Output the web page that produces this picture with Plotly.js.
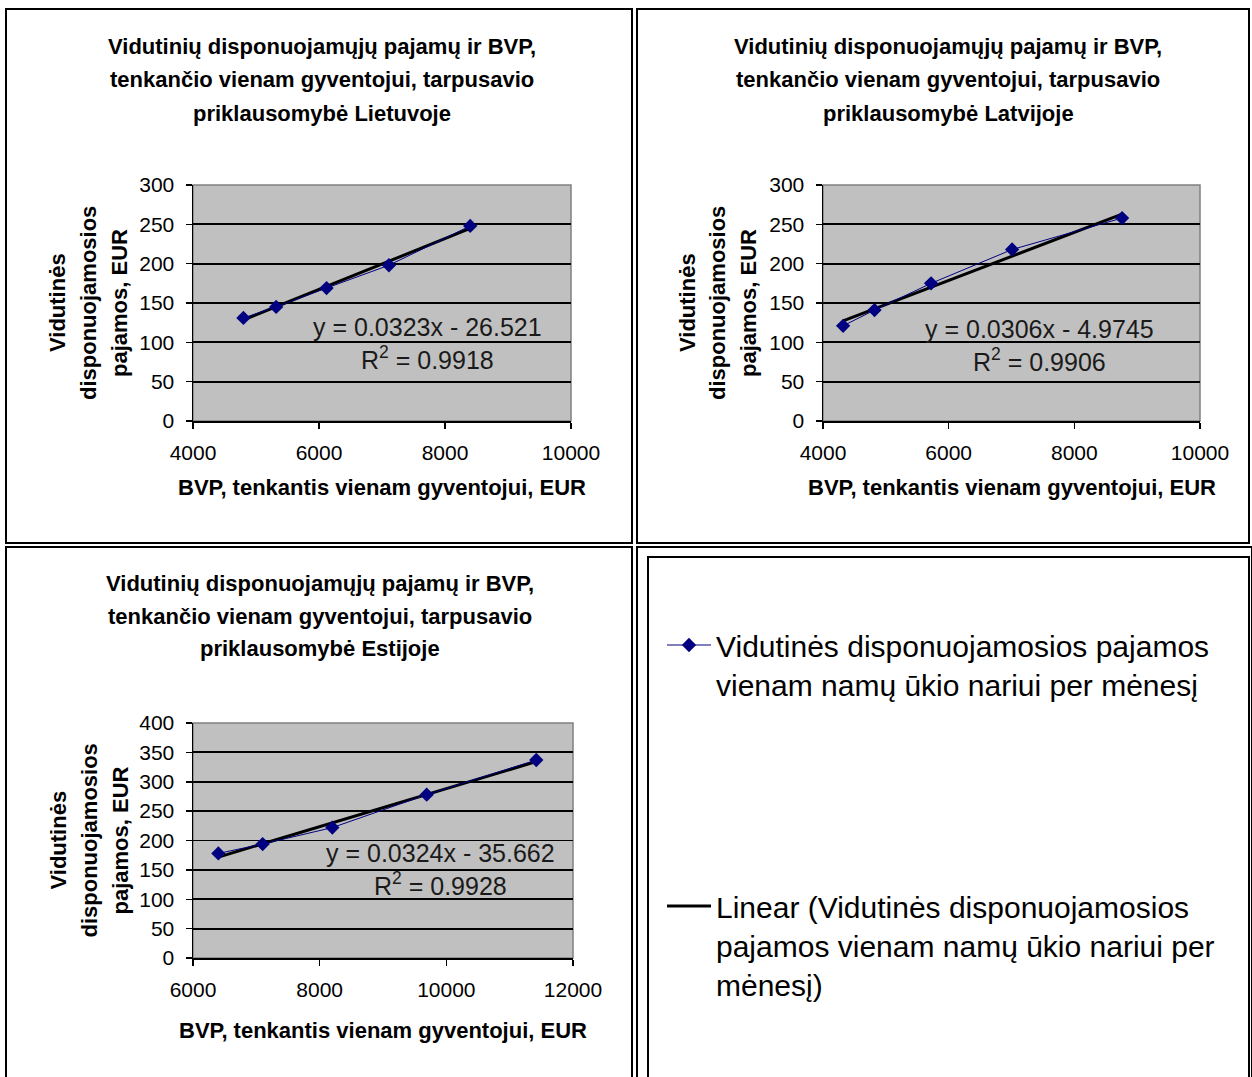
<!DOCTYPE html>
<html><head><meta charset="utf-8">
<script src="https://cdn.plot.ly/plotly-3.0.1.min.js"></script>
<style>html,body{margin:0;padding:0;background:#fff}</style>
</head><body><div id="chart" style="width:1252px;height:1077px"></div>
<script>
// ---- data ----
const countries = ["Lietuvoje", "Latvijoje", "Estijoje"];
const gdpLT = [4800, 5320, 6120, 7110, 8400];
const incLT = [131, 145, 169, 198, 248];
const gdpLV = [4320, 4820, 5720, 7010, 8760];
const incLV = [121, 141, 175, 218, 258];
const gdpEE = [6400, 7100, 8200, 9690, 11420];
const incEE = [178, 194, 222, 278, 337];
const slopes = [0.0323, 0.0306, 0.0324];
const intercepts = [-26.521, -4.9745, -35.662];
const eqTexts = ["y = 0.0323x - 26.521", "y = 0.0306x - 4.9745", "y = 0.0324x - 35.662"];
const r2Texts = ["0.9918", "0.9906", "0.9928"];
const xTicksA = [4000, 6000, 8000, 10000];
const yTicksA = [0, 50, 100, 150, 200, 250, 300];
const xTicksB = [6000, 8000, 10000, 12000];
const yTicksB = [0, 50, 100, 150, 200, 250, 300, 350, 400];
const titleLines = ["Vidutinių disponuojamųjų pajamų ir BVP,", "tenkančio vienam gyventojui, tarpusavio", "priklausomybė "];
const yTitleLines = ["Vidutinės", "disponuojamosios", "pajamos, EUR"];
const xTitle = "BVP, tenkantis vienam gyventojui, EUR";
const seriesName = "Vidutinės disponuojamosios pajamos<br>vienam namų ūkio nariui per mėnesį";
const trendName = "Linear (Vidutinės disponuojamosios<br>pajamos vienam namų ūkio nariui per<br>mėnesį)";

const gdp = [gdpLT, gdpLV, gdpEE];
const inc = [incLT, incLV, incEE];
const xTicks = [xTicksA, xTicksA, xTicksB];
const yTicks = [yTicksA, yTicksA, yTicksB];

// ---- layout geometry (pixels) ----
const W = 1252, H = 1077;
const px = v => v / W, py = v => 1 - v / H;
const FONT = "Arial, 'Liberation Sans', sans-serif";
const panels = [
  {plot: [193, 571, 185, 421], titleX: 322, titleY: [47, 80, 113], yTitleX: [58, 89, 120], xTitleY: 487, eq: [7730, 98]},
  {plot: [823, 1200, 185, 421], titleX: 948, titleY: [47, 80, 113], yTitleX: [688, 718, 749], xTitleY: 487, eq: [7439, 96]},
  {plot: [193, 573, 723, 958], titleX: 320, titleY: [583, 616, 648], yTitleX: [58, 89, 120], xTitleY: 1030, eq: [9911, 151]}
];

const traces = [];
const annotations = [];
const shapes = [];
const layout = {
  width: W, height: H,
  margin: {l: 0, r: 0, t: 0, b: 0},
  paper_bgcolor: "#ffffff",
  plot_bgcolor: "#c0c0c0",
  font: {family: FONT, color: "#000"},
  showlegend: true,
  legend: {x: px(662), y: py(619), xanchor: "left", yanchor: "top", bgcolor: "rgba(0,0,0,0)",
           font: {size: 30, family: FONT, color: "#000"}, valign: "top", itemwidth: 44},
  legend2: {x: px(662), y: py(880), xanchor: "left", yanchor: "top", bgcolor: "rgba(0,0,0,0)",
            font: {size: 30, family: FONT, color: "#000"}, valign: "top", itemwidth: 44}
};

panels.forEach((p, i) => {
  const sfx = i === 0 ? "" : String(i + 1);
  const xa = "x" + sfx, ya = "y" + sfx;
  const xs = xTicks[i], ys = yTicks[i];
  layout["xaxis" + sfx] = {
    domain: [px(p.plot[0]), px(p.plot[1])], anchor: ya,
    range: [xs[0], xs[xs.length - 1]], tickvals: xs, ticktext: xs.map(String),
    showline: true, linecolor: "#000", linewidth: 1.5, showgrid: false, zeroline: false,
    ticks: "outside", ticklen: 6, tickwidth: 1.5, tickcolor: "#000", ticklabelstandoff: 6,
    tickfont: {size: 21, family: FONT, color: "#000"}, fixedrange: true
  };
  layout["yaxis" + sfx] = {
    domain: [py(p.plot[3]), py(p.plot[2])], anchor: xa,
    range: [ys[0], ys[ys.length - 1]], tickvals: ys, ticktext: ys.map(String),
    showline: true, linecolor: "#000", linewidth: 1.5, showgrid: true, gridcolor: "#000", gridwidth: 1.8,
    zeroline: false, ticks: "outside", ticklen: 6, tickwidth: 1.5, tickcolor: "#000", ticklabelstandoff: 7,
    tickfont: {size: 21, family: FONT, color: "#000"}, fixedrange: true
  };
  // plot area border
  shapes.push({type: "rect", xref: xa + " domain", yref: ya + " domain", x0: 0, x1: 1, y0: 0, y1: 1,
               line: {color: "#808080", width: 1.5}, layer: "below"});
  // trendline from fitted coefficients
  const xmin = Math.min(...gdp[i]), xmax = Math.max(...gdp[i]);
  traces.push({
    type: "scatter", mode: "lines", x: [xmin, xmax],
    y: [slopes[i] * xmin + intercepts[i], slopes[i] * xmax + intercepts[i]],
    xaxis: xa, yaxis: ya, line: {color: "#000", width: 3},
    name: trendName, legend: "legend2", showlegend: i === 0, hoverinfo: "skip"
  });
  traces.push({
    type: "scatter", mode: "lines+markers", x: gdp[i], y: inc[i],
    xaxis: xa, yaxis: ya, line: {color: "#000080", width: 1},
    marker: {symbol: "diamond", size: 11, color: "#000080"},
    name: seriesName, legend: "legend", showlegend: i === 0
  });
  // titles
  const tl = [titleLines[0], titleLines[1], titleLines[2] + countries[i]];
  tl.forEach((t, k) => annotations.push({
    xref: "paper", yref: "paper", x: px(p.titleX), y: py(p.titleY[k]), xanchor: "center", yanchor: "middle",
    text: "<b>" + t + "</b>", showarrow: false, font: {size: 22, family: FONT, color: "#000"}
  }));
  const cy = (p.plot[2] + p.plot[3]) / 2;
  yTitleLines.forEach((t, k) => annotations.push({
    xref: "paper", yref: "paper", x: px(p.yTitleX[k]), y: py(cy), xanchor: "center", yanchor: "middle",
    text: "<b>" + t + "</b>", textangle: -90, showarrow: false, font: {size: 22, family: FONT, color: "#000"}
  }));
  annotations.push({
    xref: "paper", yref: "paper", x: px((p.plot[0] + p.plot[1]) / 2), y: py(p.xTitleY),
    xanchor: "center", yanchor: "middle", text: "<b>" + xTitle + "</b>", showarrow: false,
    font: {size: 22, family: FONT, color: "#000"}
  });
  annotations.push({
    xref: xa, yref: ya, x: p.eq[0], y: p.eq[1], xanchor: "center", yanchor: "middle",
    text: eqTexts[i] + "<br>R<sup>2</sup> = " + r2Texts[i], showarrow: false, align: "center",
    font: {size: 25, family: FONT, color: "#1a1a1a"}
  });
});

// panel borders
const rects = [[6, 9, 632, 543], [637, 9, 1249, 543], [6, 547, 632, 1080], [637, 547, 1252, 1080], [648, 557, 1249, 1080]];
rects.forEach(r => shapes.push({type: "rect", xref: "paper", yref: "paper",
  x0: px(r[0]), x1: px(r[2]), y0: py(r[3]), y1: py(r[1]), line: {color: "#000", width: 2}}));

layout.annotations = annotations;
layout.shapes = shapes;
Plotly.newPlot("chart", traces, layout, {displayModeBar: false, staticPlot: true});
</script></body></html>
